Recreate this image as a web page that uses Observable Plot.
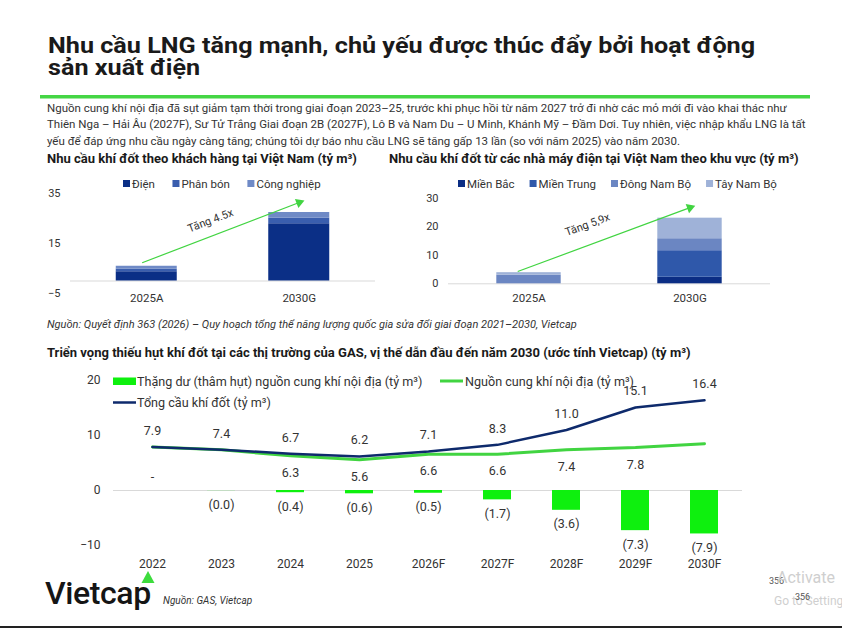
<!DOCTYPE html>
<html lang="vi">
<head>
<meta charset="utf-8">
<script src="https://cdn.jsdelivr.net/npm/d3@7"></script>
<script src="https://cdn.jsdelivr.net/npm/@observablehq/plot@0.6"></script>
<style>
  html, body { margin: 0; padding: 0; background: #fff; }
  #page { position: relative; width: 842px; height: 629px; overflow: hidden; }
  .chart { position: absolute; }
  .chart svg { overflow: visible; }
  #overlay { position: absolute; left: 0; top: 0; z-index: 2; pointer-events: none; }
</style>
</head>
<body>
<div id="page"></div>
<script>
const FONT = "Roboto, 'Noto Sans', sans-serif";

// Nhu cầu khí đốt theo khách hàng tại Việt Nam (tỷ m³)
const customerYears = ["2025A", "2030G"];
const customerSeries = ["Điện", "Phân bón", "Công nghiệp"];
const customerPower = [3.7, 22.9];
const customerFertilizer = [1.0, 2.2];
const customerIndustry = [1.2, 2.3];
const customerColors = ["#0b2f86", "#3a5eae", "#6f8ac6"];
const customerGrowthLabel = "Tăng 4.5x";
const customerArrowFrom = [-0.03, 7.3];
const customerArrowTo = [1, 31.4];

// Nhu cầu khí đốt từ các nhà máy điện theo khu vực (tỷ m³)
const regionYears = ["2025A", "2030G"];
const regionSeries = ["Miền Bắc", "Miền Trung", "Đông Nam Bộ", "Tây Nam Bộ"];
const regionNorth = [0, 2.3];
const regionCentral = [0, 9.3];
const regionSoutheast = [3.0, 4.2];
const regionSouthwest = [0.9, 7.2];
const regionColors = ["#0b2d84", "#2f58aa", "#6b86c2", "#9fb2d8"];
const regionGrowthLabel = "Tăng 5,9x";
const regionArrowFrom = [-0.07, 4.3];
const regionArrowTo = [1, 26.7];

// Triển vọng thiếu hụt khí đốt tại các thị trường của GAS (tỷ m³)
const balanceYears = ["2022", "2023", "2024", "2025", "2026F", "2027F", "2028F", "2029F", "2030F"];
const totalDemand = [7.9, 7.4, 6.7, 6.2, 7.1, 8.3, 11.0, 15.1, 16.4];
const domesticSupply = [7.9, 7.4, 6.3, 5.6, 6.6, 6.6, 7.4, 7.8, 8.5];
const supplyBalance = [0, -0.02, -0.4, -0.6, -0.5, -1.7, -3.6, -7.3, -7.9];
const supplyLabelYears = ["2024", "2025", "2026F", "2027F", "2028F", "2029F"];

const GREEN = "#41d441";
const BAR_GREEN = "#0ef00e";
const NAVY = "#0e2a6c";

const page = d3.select("#page");

function stackRows(years, series, values) {
  const rows = [];
  years.forEach((year, i) => {
    let base = 0;
    series.forEach((name, k) => {
      const v = values[k][i];
      rows.push({i, year, series: name, y1: base, y2: base + v});
      base += v;
    });
  });
  return rows;
}

function stackedChart(o) {
  const rows = stackRows(o.years, o.series, o.values);
  const arrow = [{x1: o.from[0], y1: o.from[1], x2: o.to[0], y2: o.to[1], label: o.label}];
  const along = (a, b) => a + o.labelAt * (b - a);
  return Plot.plot({
    width: o.width, height: 138,
    marginLeft: o.marginLeft, marginRight: 10, marginTop: o.marginTop, marginBottom: o.marginBottom,
    style: {fontFamily: FONT, fontSize: "11px", color: "#333", background: "transparent"},
    x: {domain: [-0.5, 1.5]},
    y: {domain: o.yDomain},
    color: {domain: o.series, range: o.colors},
    marks: [
      Plot.ruleY([0], {stroke: "#d9d9d9"}),
      Plot.rectY(rows, {x1: d => d.i - 0.2, x2: d => d.i + 0.2, y1: "y1", y2: "y2", fill: "series"}),
      Plot.link(arrow, {x1: "x1", y1: "y1", x2: "x2", y2: "y2", stroke: GREEN, strokeWidth: 1.2}),
      Plot.dot(arrow, {x: "x2", y: "y2", symbol: "triangle", r: 3.6, fill: GREEN, rotate: o.headRotate}),
      Plot.text(arrow, {
        x: d => along(d.x1, d.x2), y: d => along(d.y1, d.y2), text: "label",
        rotate: o.labelRotate, dy: o.labelDy, fontSize: 11, fill: "#333"
      }),
      Plot.axisX({ticks: [0, 1], tickFormat: i => o.years[i], tickSize: 0, tickPadding: o.xPad, fontSize: 11.5, label: null}),
      Plot.axisY({ticks: o.yTicks, tickSize: 0, tickPadding: 10, label: null})
    ]
  });
}

function place(node, left, top) {
  page.append("div").attr("class", "chart").style("left", left + "px").style("top", top + "px").node().appendChild(node);
}

place(stackedChart({
  years: customerYears, series: customerSeries,
  values: [customerPower, customerFertilizer, customerIndustry], colors: customerColors,
  from: customerArrowFrom, to: customerArrowTo, label: customerGrowthLabel,
  labelAt: 0.435, labelDy: -16, labelRotate: -21, headRotate: 69,
  width: 345, marginLeft: 30, marginTop: 18, marginBottom: 20, xPad: 0,
  yDomain: [-5, 35], yTicks: [-5, 15, 35]
}), 40, 175);

place(stackedChart({
  years: regionYears, series: regionSeries,
  values: [regionNorth, regionCentral, regionSoutheast, regionSouthwest], colors: regionColors,
  from: regionArrowFrom, to: regionArrowTo, label: regionGrowthLabel,
  labelAt: 0.405, labelDy: -21, labelRotate: -20, headRotate: 70,
  width: 395, marginLeft: 63, marginTop: 22.7, marginBottom: 29.7, xPad: 10.5,
  yDomain: [0, 30], yTicks: [0, 10, 20, 30]
}), 385, 175);

// Cân đối cung – cầu khí nội địa
const balanceRows = balanceYears.map((year, i) => ({
  year, demand: totalDemand[i], supply: domesticSupply[i], balance: supplyBalance[i]
}));
const fmtBalance = v => v === 0 ? "-" : v < 0 ? `(${(-v).toFixed(1)})` : v.toFixed(1);

place(Plot.plot({
  width: 760, height: 215,
  marginLeft: 73, marginRight: 58, marginTop: 15, marginBottom: 35,
  style: {fontFamily: FONT, fontSize: "12px", color: "#333", background: "transparent"},
  x: {domain: balanceYears, paddingInner: 0.6, paddingOuter: 0.3},
  y: {domain: [-10, 20]},
  marks: [
    Plot.ruleY([0], {stroke: "#d9d9d9"}),
    Plot.barY(balanceRows, {x: "year", y: "balance", fill: BAR_GREEN}),
    Plot.line(balanceRows, {x: "year", y: "supply", stroke: GREEN, strokeWidth: 3}),
    Plot.line(balanceRows, {x: "year", y: "demand", stroke: NAVY, strokeWidth: 2.5}),
    Plot.text(balanceRows, {x: "year", y: "demand", text: d => d.demand.toFixed(1), dy: -16, fontSize: 12.5, fill: "#333"}),
    Plot.text(balanceRows.filter(d => supplyLabelYears.includes(d.year)),
      {x: "year", y: "supply", text: d => d.supply.toFixed(1), dy: 17, fontSize: 12.5, fill: "#333"}),
    Plot.text(balanceRows.filter(d => d.balance < 0),
      {x: "year", y: "balance", text: d => fmtBalance(d.balance), dy: 14, fontSize: 12.5, fill: "#333"}),
    Plot.text(balanceRows.filter(d => d.balance >= 0),
      {x: "year", y: "balance", text: d => fmtBalance(d.balance), dy: -14, fontSize: 12.5, fill: "#333"}),
    Plot.axisX({tickSize: 0, tickPadding: 14, label: null}),
    Plot.axisY({ticks: [-10, 0, 10, 20], tickSize: 0, tickPadding: 13, label: null})
  ]
}), 40, 365);

// Tiêu đề, đoạn mô tả, chú giải và nguồn
const overlay = page.append("svg").attr("id", "overlay").attr("width", 842).attr("height", 629);

function addText(x, y, str, {size = 12, weight = 400, fill = "#333", italic = false, parent = overlay} = {}) {
  return parent.append("text")
    .attr("x", x).attr("y", y)
    .attr("font-family", FONT).attr("font-size", size).attr("font-weight", weight)
    .attr("font-style", italic ? "italic" : null)
    .attr("fill", fill).text(str);
}

const titleGroup = overlay.append("g").attr("transform", "translate(48,0) scale(1.12,1)");
addText(0, 53.5, "Nhu cầu LNG tăng mạnh, chủ yếu được thúc đẩy bởi hoạt động", {size: 22.5, weight: 700, fill: "#1a1a1a", parent: titleGroup});
addText(0, 75, "sản xuất điện", {size: 22.5, weight: 700, fill: "#1a1a1a", parent: titleGroup});

overlay.append("rect").attr("x", 40).attr("y", 95).attr("width", 770).attr("height", 3.5).attr("fill", "#45d645");

const paragraph = [
  "Nguồn cung khí nội địa đã sụt giảm tạm thời trong giai đoạn 2023–25, trước khi phục hồi từ năm 2027 trở đi nhờ các mỏ mới đi vào khai thác như",
  "Thiên Nga – Hải Âu (2027F), Sư Tử Trắng Giai đoạn 2B (2027F), Lô B và Nam Du – U Minh, Khánh Mỹ – Đầm Dơi. Tuy nhiên, việc nhập khẩu LNG là tất",
  "yếu để đáp ứng nhu cầu ngày càng tăng; chúng tôi dự báo nhu cầu LNG sẽ tăng gấp 13 lần (so với năm 2025) vào năm 2030."
];
paragraph.forEach((line, i) => addText(47, 111.5 + i * 16.5, line, {size: 11.5, fill: "#333"}));

addText(47, 162.5, "Nhu cầu khí đốt theo khách hàng tại Việt Nam (tỷ m³)", {size: 13, weight: 700, fill: "#1a1a1a"});
addText(389, 162.5, "Nhu cầu khí đốt từ các nhà máy điện tại Việt Nam theo khu vực (tỷ m³)", {size: 13, weight: 700, fill: "#1a1a1a"});

function swatchLegend(x, y, names, colors, gap) {
  names.forEach((name, k) => {
    overlay.append("rect").attr("x", x).attr("y", y - 7.5).attr("width", 7).attr("height", 7).attr("fill", colors[k]);
    const t = addText(x + 9, y, name, {size: 11.5, fill: "#333"});
    x += 9 + t.node().getComputedTextLength() + gap;
  });
}
swatchLegend(123, 187.5, customerSeries, customerColors, 17.5);
swatchLegend(458, 187.5, regionSeries, regionColors, 15);

addText(47, 328, "Nguồn: Quyết định 363 (2026) – Quy hoạch tổng thể năng lượng quốc gia sửa đổi giai đoạn 2021–2030, Vietcap", {size: 11, italic: true, fill: "#333"});

addText(47, 356.5, "Triển vọng thiếu hụt khí đốt tại các thị trường của GAS, vị thế dẫn đầu đến năm 2030 (ước tính Vietcap) (tỷ m³)", {size: 13, weight: 700, fill: "#1a1a1a"});

overlay.append("rect").attr("x", 113).attr("y", 377.5).attr("width", 23).attr("height", 7.5).attr("fill", BAR_GREEN);
addText(137, 385.5, "Thặng dư (thâm hụt) nguồn cung khí nội địa (tỷ m³)", {size: 12.6});
overlay.append("line").attr("x1", 440).attr("x2", 463).attr("y1", 381).attr("y2", 381).attr("stroke", GREEN).attr("stroke-width", 3);
addText(465, 385.5, "Nguồn cung khí nội địa (tỷ m³)", {size: 12.6});
overlay.append("line").attr("x1", 113).attr("x2", 136).attr("y1", 402.5).attr("y2", 402.5).attr("stroke", NAVY).attr("stroke-width", 2.5);
addText(137, 407, "Tổng cầu khí đốt (tỷ m³)", {size: 12.6});

// Logo và nguồn
addText(45, 604, "Vietcap", {size: 32, weight: 500, fill: "#151515"}).attr("letter-spacing", -0.4);
overlay.append("path").attr("d", "M148,571 L154.5,583 L141.5,583 Z").attr("fill", "#3ddc3d");
addText(163, 604, "Nguồn: GAS, Vietcap", {size: 10, italic: true, fill: "#333"});

addText(769, 584, "356", {size: 9, fill: "#555"});
addText(777, 583, "Activate", {size: 16, fill: "#cfcfcf"});
addText(774, 605, "Go to Settings", {size: 12, fill: "#cfcfcf"});
addText(795, 600, "356", {size: 9, fill: "#555"});

overlay.append("rect").attr("x", 0).attr("y", 626).attr("width", 842).attr("height", 2).attr("fill", "#222");
</script>
</body>
</html>
